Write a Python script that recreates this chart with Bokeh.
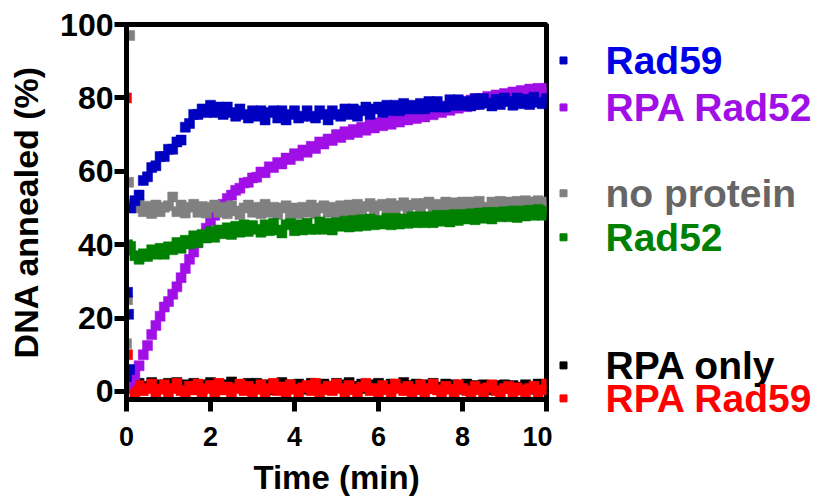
from bokeh.plotting import figure
from bokeh.layouts import row
from bokeh.models import Range1d, FixedTicker, ColumnDataSource
from bokeh.core.properties import value
from bokeh.embed import file_html
from bokeh.resources import INLINE

# ---- data (time in min, DNA annealed in %) ----
t_early = [0.0, 0.025, 0.05, 0.075]
t_main = [round(0.1 * i, 1) for i in range(1, 101)]
time = t_early + t_main

rad59 = [4, 27, 21, 6,
         50, 52, 53.5, 57.5, 58.5, 61, 61.5, 64, 64, 66,
         66, 68, 68.5, 72, 73, 75.5, 75.5, 77, 76, 78,
         76, 77.5, 75.5, 77.5, 76, 75, 77, 75.5, 74.5, 76.5,
         75, 76.5, 74, 76, 76.5, 74.5, 76.5, 74, 75.5, 76.5,
         74.5, 75, 76.5, 75, 74.5, 76.5, 75.5, 74, 76.5, 75.5,
         75, 77, 75.5, 77, 75, 76.5, 77.5, 75.5, 77, 77.5,
         76, 78, 76.5, 78, 76.5, 78.5, 77, 78, 77, 78.5,
         77, 79, 77.5, 79, 77.5, 77.5, 79.5, 78, 79.5, 78,
         79, 77.8, 79.8, 78.2, 79.8, 78.6, 77.8, 79.6, 78.2, 80,
         79, 78, 80, 78.4, 79.6, 78.2, 80.2, 78.8, 78.4, 79.8]

rpa_rad52 = [2, 2.5, 3, 3,
             3.5, 4.5, 7, 10, 12.5, 15.5, 18, 20.5, 23, 24.5,
             26.5, 28.5, 31, 33.5, 36, 38, 40.5, 42.5, 44.5, 46.5,
             48, 49.8, 51, 52.6, 53.5, 54.8, 55.4, 56.8, 57, 58.2,
             58.4, 59.8, 59.6, 61.2, 61, 62.4, 62, 63.6, 63.2, 64.8,
             64.2, 65.8, 65.2, 66.8, 66.2, 68, 67.4, 68.8, 68.4, 70,
             69.2, 70.8, 70, 71.4, 70.6, 72, 71.2, 72.8, 71.8, 73.2,
             72.4, 73.8, 72.8, 74.4, 73.4, 75, 74, 75.4, 74.4, 76,
             74.8, 76.6, 75.4, 77.2, 76, 77.8, 76.6, 78.2, 77.2, 78.8,
             77.6, 79.4, 78.2, 79.8, 78.6, 80.4, 79, 80.8, 79.6, 81.2,
             80, 81.6, 80.4, 82, 80.8, 82.4, 81, 82.6, 81.4, 82.6]

no_protein = [13, 25, 57, 97,
              51, 50, 51, 49, 50.5, 48.5, 50.8, 49, 50.2, 50.6,
              53, 49, 50.8, 48.6, 50.2, 51, 48.8, 50.4, 48.6, 50.2,
              50.8, 48.8, 50.2, 48.4, 50.6, 49.2, 48.2, 50, 50.8, 48.8,
              50.2, 48.4, 51, 48.8, 50.2, 48.2, 50, 50.6, 48.6, 50,
              48.4, 50.2, 48.8, 50.8, 48.4, 50, 50.6, 48.8, 50.2, 48.6,
              50.6, 48.8, 50.8, 49, 51, 49.2, 50.4, 51.2, 49, 50.6,
              51, 49.2, 51.2, 49.4, 50.6, 51.4, 49.2, 50.8, 51.2, 49.4,
              51.2, 51.6, 49.6, 51, 49.8, 51.6, 49.6, 51.4, 50, 51.6,
              49.8, 51.6, 50, 51.8, 50.2, 49.8, 51.6, 50, 51.8, 50.2,
              51.6, 50, 51.8, 50.2, 52, 50.2, 51.6, 52, 50.2, 51.6]

rad52 = [39, 40, 39, 38.5,
         39.5, 37, 36, 37.5, 36.8, 38.6, 37.4, 39, 37.4, 39.4,
         38.6, 40.6, 39, 41.2, 40.2, 42.4, 40.6, 42.8, 41.8, 43.6,
         42, 44, 43, 44.6, 42.8, 45, 43.4, 45.4, 43.6, 45.2,
         44.2, 43.4, 45.4, 43.8, 45.8, 44, 43.2, 45.4, 45.8, 43.8,
         45.4, 44, 45.8, 44.2, 44.2, 46.2, 44.2, 45.8, 44, 46,
         45, 46.4, 44.8, 46.6, 45, 46.8, 45.2, 47, 45.4, 46.6,
         45.6, 47.2, 45.4, 47.2, 45.6, 47, 45.8, 47.6, 46, 47.6,
         46, 47.6, 46, 48, 46.4, 48, 46.2, 48.2, 46.6, 48.2,
         47, 48.4, 46.8, 48.6, 47.2, 48.8, 47, 48.8, 47.6, 49,
         47.6, 49.2, 47.4, 49.2, 47.8, 49.4, 48, 49.6, 48, 49.2]

rpa_only = [1, 2, 1.5, 1,
            1.8, 0.6, 2.2, 1.0, 1.4, 2.4, 0.6, 1.8, 1.0, 2.2,
            1.2, 2.4, 0.6, 1.8, 1.0, 2.2, 1.4, 0.4, 1.8, 2.4,
            1.0, 2.0, 0.6, 1.8, 2.6, 1.0, 1.8, 0.6, 2.2, 1.2,
            2.2, 0.8, 1.8, 0.4, 2.0, 1.2, 2.4, 0.6, 1.8, 1.0,
            2.0, 1.2, 0.6, 2.2, 1.6, 0.8, 2.0, 0.6, 1.4, 2.2,
            1.0, 1.8, 2.4, 0.6, 1.4, 2.0, 0.8, 1.8, 0.6, 2.2,
            1.4, 0.6, 2.0, 1.0, 1.8, 2.4, 0.8, 1.6, 2.0, 0.6,
            1.8, 0.8, 2.2, 1.2, 0.6, 2.0, 1.0, 1.8, 1.4, 0.6,
            2.0, 0.8, 1.6, 0.6, 1.8, 1.0, 0.4, 1.6, 0.6, 1.8,
            0.8, 1.6, 0.4, 1.2, 1.8, 0.6, 1.2, 2.0, 0.8, 1.4]

rpa_rad59 = [80, 10, 2, 1,
             1.2, -0.4, 1.6, 0.2, 0.8, 2.0, -0.2, 0.6, 1.8, -0.4,
             0.8, 2.2, 0.2, -0.4, 1.4, 0.4, 2.0, -0.6, 0.8, 1.6,
             -0.2, 2.2, 0.4, 1.2, -0.6, 0.8, 2.0, 0.2, 1.4, -0.4,
             0.6, 1.8, -0.6, 0.8, 2.2, 0.2, 1.2, -0.4, 1.8, 0.6,
             -0.6, 1.0, 1.6, 0.2, 2.2, -0.4, 0.6, 1.4, 0.2, 2.0,
             0.8, -0.6, 1.6, 0.6, -0.2, 1.2, 2.2, 0.2, 0.8, -0.6,
             1.6, 0.6, -0.4, 2.0, 0.8, 0.2, 1.4, -0.6, 0.6, 1.8,
             -0.2, 0.8, 2.0, 0.4, -0.6, 1.4, 0.6, -0.2, 1.8, 0.8,
             0.2, -0.6, 1.4, 0.6, -0.2, 1.0, 1.8, 0.2, -0.6, 0.8,
             1.4, -0.2, 1.0, 0.4, -0.6, 0.8, 1.4, -0.2, 0.4, 2.0]

x_ticks = [0, 2, 4, 6, 8, 10]
y_ticks = [0, 20, 40, 60, 80, 100]

# legend entries: name, label height (%), marker colour, text colour
legend_names = ["Rad59", "RPA Rad52", "no protein", "Rad52", "RPA only", "RPA Rad59"]
legend_y = [90.2, 77.4, 54.0, 42.0, 7.1, -1.9]
legend_marker_colors = ["#0000C0", "#A010E6", "#808080", "#008000", "#000000", "#FF0000"]
legend_text_colors = ["#0000E6", "#A010E6", "#666666", "#008000", "#000000", "#FF0000"]

# draw order (last on top)
series = [
    (rpa_only, "#000000"),
    (rpa_rad59, "#FF0000"),
    (rpa_rad52, "#A010E6"),
    (no_protein, "#808080"),
    (rad52, "#008000"),
    (rad59, "#0000C0"),
]

FONT = "Liberation Sans"
Y0, Y1 = -2.2, 100.0
yr = Range1d(Y0, Y1)
px_per_unit = 375.0 / (Y1 - Y0)

p = figure(width=552, height=501, output_backend="svg", toolbar_location=None,
           x_range=Range1d(0, 10), y_range=yr,
           min_border_left=126, min_border_right=6,
           min_border_top=24, min_border_bottom=102)

p.xgrid.visible = False
p.ygrid.visible = False
p.outline_line_color = "black"
p.outline_line_width = 5
p.background_fill_color = "white"
p.border_fill_color = "white"

for vals, col in series:
    src = ColumnDataSource(dict(t=time, v=vals))
    p.scatter("t", "v", source=src, marker="square", size=10,
              fill_color=col, line_color=col, line_width=0.5)

p.xaxis.ticker = FixedTicker(ticks=x_ticks)
p.yaxis.ticker = FixedTicker(ticks=y_ticks)
for ax in (p.xaxis, p.yaxis):
    ax.axis_line_width = 5
    ax.major_tick_line_width = 5
    ax.major_tick_out = 12
    ax.major_tick_in = 0
    ax.minor_tick_line_color = None
    ax.major_label_text_font = FONT
    ax.major_label_text_font_style = "bold"
    ax.major_label_text_color = "black"
    ax.axis_label_text_font = FONT
    ax.axis_label_text_font_style = "bold"
    ax.axis_label_text_color = "black"

p.xaxis.axis_label_text_font_size = "33px"
p.yaxis.axis_label_text_font_size = "34px"
p.xaxis.major_label_text_font_size = "27px"
p.yaxis.major_label_text_font_size = "32px"
p.xaxis.major_label_standoff = 15
p.yaxis.major_label_standoff = 1
p.xaxis.axis_label = "Time (min)"
p.yaxis.axis_label = "DNA annealed (%)"
p.xaxis.axis_label_standoff = 10
p.yaxis.axis_label_standoff = 12

# legend panel to the right, same vertical scale as the plot, full height
leg_top = Y1 + 24 / px_per_unit
leg_bottom = Y1 - 501 / px_per_unit + 24 / px_per_unit
leg = figure(width=267, height=501, output_backend="svg", toolbar_location=None,
             x_range=Range1d(552, 819), y_range=Range1d(leg_bottom, leg_top),
             min_border_left=0, min_border_right=0,
             min_border_top=0, min_border_bottom=0)
for fig in (p, leg):
    if "frame_align" in fig.properties():
        fig.frame_align = False
leg.axis.visible = False
leg.xgrid.visible = False
leg.ygrid.visible = False
leg.outline_line_color = None
leg.background_fill_color = "white"
leg.border_fill_color = "white"

lsrc = ColumnDataSource(dict(
    xm=[563] * len(legend_names), xt=[605] * len(legend_names),
    y=legend_y, name=legend_names, mc=legend_marker_colors, tc=legend_text_colors))
leg.scatter("xm", "y", source=lsrc, marker="square", size=7,
            fill_color="mc", line_color="mc")
leg.text("xt", "y", text="name", source=lsrc, text_color="tc",
         text_font=value(FONT), text_font_style="bold", text_font_size="39px",
         text_baseline="middle", text_align="left")

layout = row(p, leg, spacing=0)
open("out.html", "w").write(file_html(layout, INLINE))
